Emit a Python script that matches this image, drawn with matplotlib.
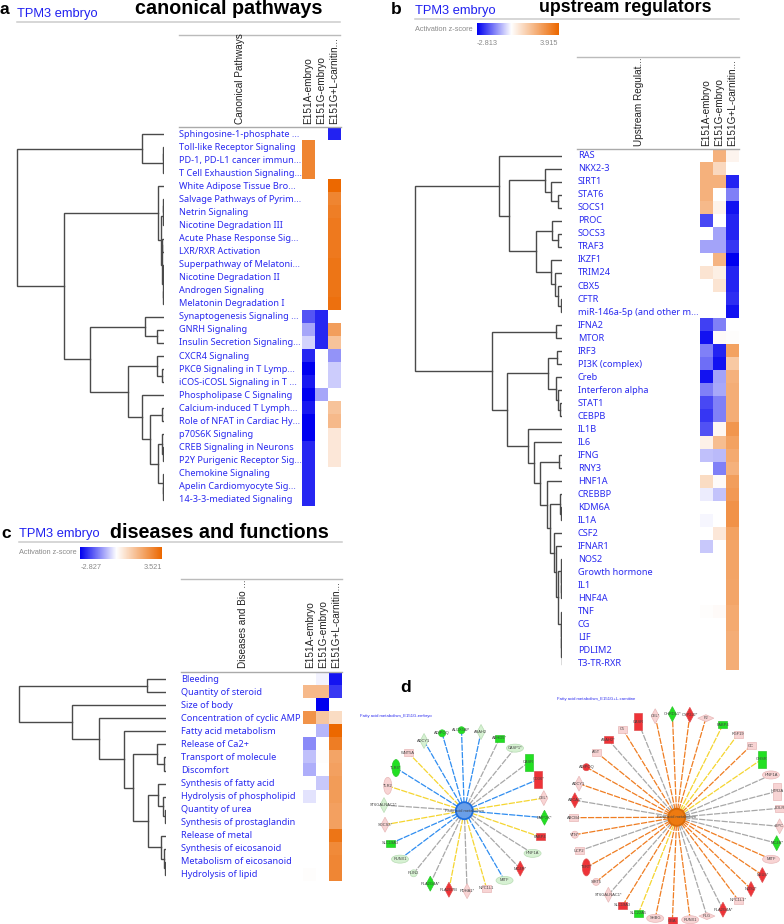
#!/usr/bin/env python3
"""Activation z-score heatmaps with clustering trees, plus two fatty acid networks."""

import numpy as np
import matplotlib
matplotlib.use("Agg")
import matplotlib.pyplot as plt
from matplotlib.colors import LinearSegmentedColormap, TwoSlopeNorm
from matplotlib.patches import Circle, Ellipse, Polygon, Rectangle

W, H = 784, 924
na = np.nan

COLUMNS = ["E151A-embryo", "E151G-embryo", "E151G+L-carnitin..."]

# panel a
canonical_labels = [
    "Sphingosine-1-phosphate ...", "Toll-like Receptor Signaling", "PD-1, PD-L1 cancer immun...",
    "T Cell Exhaustion Signaling...", "White Adipose Tissue Bro...", "Salvage Pathways of Pyrim...",
    "Netrin Signaling", "Nicotine Degradation III", "Acute Phase Response Sig...",
    "LXR/RXR Activation", "Superpathway of Melatoni...", "Nicotine Degradation II",
    "Androgen Signaling", "Melatonin Degradation I", "Synaptogenesis Signaling ...",
    "GNRH Signaling", "Insulin Secretion Signaling...", "CXCR4 Signaling",
    "PKC\u03b8 Signaling in T Lymp...", "iCOS-iCOSL Signaling in T ...", "Phospholipase C Signaling",
    "Calcium-induced T Lymph...", "Role of NFAT in Cardiac Hy...", "p70S6K Signaling",
    "CREB Signaling in Neurons", "P2Y Purigenic Receptor Sig...", "Chemokine Signaling",
    "Apelin Cardiomyocyte Sig...", "14-3-3-mediated Signaling",
]
canonical_a = [na, 2.65, 2.65, 2.65, na, na, na, na, na, na, na, na, na, na,
               -2.0, -1.05, -0.5, -2.55, -3.0, -2.7, -3.0, -2.7, -3.0, -3.0,
               -2.55, -2.55, -2.55, -2.55, -2.55]
canonical_g = [na, na, na, na, na, na, na, na, na, na, na, na, na, na,
               -2.55, -2.55, -2.55, na, na, na, -1.05, na, na, na,
               na, na, na, na, na]
canonical_c = [-2.6, na, na, na, 3.3, 2.65, 2.8, 2.9, 2.9, 2.9, 3.0, 3.0, 3.0, 3.1,
               na, 2.1, 1.3, -1.25, -0.6, -0.6, na, 1.3, 1.5, 0.5,
               0.5, 0.5, na, na, na]
canonical_range = (-3.0, 3.3)
# (branch height, child, child); plain ints are rows
canonical_tree = (
    146.5,
    (21.5, 0, (0.5, (0.3, 1, 2), 3)),
    (99.5,
     (5.5, 4,
      (3, (1, (0.5, 5, 6), 7),
       (1.5, (1.5, 8, 9), (1, (0.5, 10, 11), (0.5, 12, 13))))),
     (73.5,
      (18.5, 14, (6.5, 15, 16)),
      (35.5,
       (6.5, 17, (1.5, 18, 19)),
       (21.5, 20,
        (14, (2, 21, 22),
         (5.5, (2, 23, (1, 24, 25)), (1, 26, (0.5, 27, 28)))))))),
)

# panel b
upstream_labels = [
    "RAS", "NKX2-3", "SIRT1", "STAT6", "SOCS1", "PROC", "SOCS3", "TRAF3", "IKZF1", "TRIM24",
    "CBX5", "CFTR", "miR-146a-5p (and other m...", "IFNA2", "MTOR", "IRF3", "PI3K (complex)",
    "Creb", "Interferon alpha", "STAT1", "CEBPB", "IL1B", "IL6", "IFNG", "RNY3", "HNF1A",
    "CREBBP", "KDM6A", "IL1A", "CSF2", "IFNAR1", "NOS2", "Growth hormone", "IL1", "HNF4A",
    "TNF", "CG", "LIF", "PDLIM2", "T3-TR-RXR",
]
upstream_a = [na, 2.0, 2.0, 2.0, 1.8, -2.0, na, -1.0, na, 0.7, na, na, na, -2.1, -2.6,
              -1.4, -1.6, -2.6, -1.4, -2.0, -2.2, -1.9, 0.35, -0.7, na, 0.9, -0.2, na,
              -0.1, na, -0.6, na, na, na, na, 0.05, na, na, na, na]
upstream_g = [2.0, 1.0, 2.0, na, 0.3, na, -1.0, -1.0, 1.9, 0.4, 0.7, na, na, -1.4, 0.1,
              -2.4, -2.6, -1.0, -0.95, -1.4, -1.4, 0.2, 1.7, -0.75, -1.4, 0.1, -0.65, na,
              na, 0.6, na, na, na, na, na, 0.1, na, na, na, na]
upstream_c = [0.25, na, -2.4, -1.4, -2.6, -2.4, -2.4, -2.2, -2.8, -2.4, -2.4, -2.3, -2.6,
              na, 0.05, 2.4, 1.4, 2.0, 2.1, 2.1, 2.1, 2.7, 2.4, 2.2, 2.0, 2.5, 2.6, 2.8,
              2.8, 2.4, 2.35, 2.35, 2.35, 2.3, 2.3, 2.2, 2.2, 2.1, 2.1, 2.1]
upstream_range = (-2.813, 3.915)
upstream_tree = (
    146.7,
    (62.7, 0,
     (52.4,
      (17, 1, (10.4, 2, (4, 3, 4))),
      (26,
       (10, 5, (3.7, 6, 7)),
       (11, 8, (6.4, 9, (3.4, 10, (0.7, 11, 12))))))),
    (69.4,
     (5.4, 13, 14),
     (54.4,
      (13.4,
       (4.4, 15, 16),
       (5.7, 17, (3.4, 18, (1.7, 19, 20)))),
      (33.4, 21,
       (27.4, 22,
        (21.4,
         (3, 23, 24),
         (14.7, 25,
          (11.4,
           (2, 26, (0.5, 27, 28)),
           (7.4, 29,
            (5.4, 30,
             (3.4,
              (1, 31, (0.7, 32, (0.5, 33, 34))),
              (1, 35, (0.5, 36, (0.3, 37, (0.2, 38, 39))))))))))))))
)

# panel c
disease_labels = [
    "Bleeding", "Quantity of steroid", "Size of body", "Concentration of cyclic AMP",
    "Fatty acid metabolism", "Release of Ca2+", "Transport of molecule", "Discomfort",
    "Synthesis of fatty acid", "Hydrolysis of phospholipid", "Quantity of urea",
    "Synthesis of prostaglandin", "Release of metal", "Synthesis of eicosanoid",
    "Metabolism of eicosanoid", "Hydrolysis of lipid",
]
disease_a = [na, 1.6, na, 2.5, na, -1.3, -0.7, -0.9, na, -0.3, na, na, na, na, na, 0.03]
disease_g = [-0.15, 1.6, -2.827, 1.3, -0.8, na, 0.05, na, -0.6, na, na, na, na, na, na, na]
disease_c = [-2.6, -2.2, na, 0.8, 3.5, 3.0, 2.1, 2.2, 2.3, 2.3, 2.2, 2.2, 3.2, 2.7, 2.8, 2.8]
disease_range = (-2.827, 3.521)
disease_tree = (
    147,
    (19, 0, 1),
    (93.4, 2,
     (66.7, 3,
      (41.7, 4,
       (32.4,
        (8.7, 5, (2, 6, 7)),
        (17.4,
         (7.4, 8, (3, 9, (1, 10, 11))),
         (5, 12, (2, 13, (1, 14, 15))))))))
)

# panel d, angles clockwise from the top in degrees
left_names = ["ADCY1", "WNT5A", "TLR4*", "TLR2", "ST6GALNAC1*", "SOCS3*", "SLC19A3", "RUNX1",
              "PLIN2", "PLA2G4A*", "PLA2G7B", "PDHA1*", "NPC1L1", "MITF", "MC4R*", "HNF1A",
              "FABP4", "BMP2K*", "CEL*", "CD36*", "CASR", "CASP1*", "ABHD5*", "ASAH2",
              "ALOX5AP", "ADIPOQ"]
left_angles = [330, 316, 302, 288, 274, 260, 246, 233, 219, 205, 191, 178, 164, 150, 136,
               122, 109, 95, 81, 67, 53, 39, 26, 12, 358, 344]
left_shapes = ["d", "r", "E", "E", "d", "d", "r", "W", "c", "d", "d", "d", "r", "W", "d",
               "W", "r", "d", "d", "R", "R", "W", "r", "d", "c", "c"]
left_fills = ["lg", "p", "g", "p", "lg", "p", "g", "lg", "lg", "g", "r", "p", "p", "lg", "r",
              "lg", "r", "g", "p", "r", "g", "lg", "g", "lg", "g", "g"]
left_edges = ["b", "y", "b", "y", "k", "y", "b", "b", "k", "k", "y", "k", "y", "b", "k",
              "k", "y", "b", "y", "b", "k", "k", "k", "b", "b", "b"]

right_names = ["C5", "CASR", "CEL*", "CHRDL1*", "CYP2J2*", "F2", "FABP4", "FGF19", "GC", "GHSR",
               "HNF1A", "HTR2A", "LDLR", "LIPC", "MC4R*", "MITF", "NEU3*", "NOS2*", "NPC1L1*",
               "PLA2G4A*", "PLG", "RUNX1", "GBA", "SHBG", "SLC22A5", "SLC19A3", "ST6GALNAC1*",
               "SIRT5", "TERT*", "UCP2", "VTN*", "ABCB4", "ABCA1*", "ADCY1", "ADIPOQ", "AGT",
               "ASAH2*"]
right_angles = [328.5, 338, 348, 357.6, 7.3, 16.4, 26.5, 36.4, 46, 55.7, 65.8, 75.5, 85, 95,
                104.5, 114, 124, 134, 143.4, 153.4, 163, 172.5, 182.4, 192, 201.7, 211.5,
                221.4, 231.3, 241, 251, 260.3, 269.8, 279.5, 289, 299, 309, 318.6]
right_shapes = ["r", "R", "d", "d", "d", "D", "r", "r", "r", "R", "W", "R", "r", "d", "d", "W",
                "d", "d", "r", "d", "D", "W", "r", "W", "r", "r", "d", "c", "E", "r", "c", "r",
                "d", "d", "c", "r", "r"]
right_fills = ["p", "r", "p", "g", "r", "p", "g", "p", "p", "g", "p", "p", "p", "p", "g", "p",
               "r", "r", "p", "r", "p", "p", "r", "p", "g", "r", "p", "p", "r", "p", "p", "p",
               "r", "p", "r", "p", "r"]
right_edges = ["o", "k", "o", "o", "o", "o", "y", "y", "o", "y", "k", "k", "k", "k", "k", "o",
               "o", "o", "o", "k", "k", "o", "o", "o", "y", "o", "k", "o", "o", "k", "o", "o",
               "k", "o", "o", "o", "k"]

FILL = {"p": "#f8d4d4", "r": "#ee3338", "g": "#22e022", "lg": "#d6f1d2"}
BORDER = {"p": "#e8b8b8", "r": "#e05050", "g": "#30c830", "lg": "#b8dcb4"}
EDGE = {"b": "#2f8df0", "y": "#f5d530", "k": "#a8a8a8", "o": "#ef7d22"}
SIZE = {"d": (8, 15), "r": (9, 7), "R": (8, 17), "E": (8, 17), "W": (17, 8), "c": (7, 7), "D": (16, 7)}

BLUE = "#2a2af0"
LABEL_FONT = ["Noto Sans", "DejaVu Sans"]
HEAD_FONT = "Liberation Sans"
CMAP = LinearSegmentedColormap.from_list("zscore", ["#0000f0", "#ffffff", "#ec6800"])

fig = plt.figure(figsize=(W / 100, H / 100), dpi=100, facecolor="white")


def px_axes(x0, y0, x1, y1, **kw):
    ax = fig.add_axes([x0 / W, 1 - y1 / H, (x1 - x0) / W, (y1 - y0) / H], **kw)
    ax.axis("off")
    return ax


# whole figure overlay in pixels, for text, rules and the networks
ov = px_axes(0, 0, W, H, zorder=5)
ov.set_xlim(0, W)
ov.set_ylim(H, 0)
ov.patch.set_alpha(0)


def draw_tree(ax, node):
    if isinstance(node, (int, np.integer)):
        return node + 0.5, 0.0
    h, left, right = node
    y0, x0 = draw_tree(ax, left)
    y1, x1 = draw_tree(ax, right)
    ax.plot([x0, h, h, x1], [y0, y0, y1, y1], color="#4a4a4a", lw=1.0, solid_joinstyle="miter")
    return (y0 + y1) / 2, h


def draw_panel(labels, cols, zrange, tree, heat_x, heat_y, row_h, col_w, tip_x, label_x, stub, head_bottom):
    n = len(labels)
    z = np.array(cols).T
    heat_bottom = heat_y + n * row_h
    norm = TwoSlopeNorm(vmin=zrange[0], vcenter=0, vmax=zrange[1])

    ax = px_axes(heat_x, heat_y, heat_x + 3 * col_w, heat_bottom)
    ax.imshow(z, cmap=CMAP, norm=norm, aspect="auto", interpolation="nearest")

    root = tree[0]
    dn = px_axes(tip_x - root - 1, heat_y, tip_x, heat_bottom)
    dn.set_xlim(root + 1, 0)
    dn.set_ylim(n, 0)
    draw_tree(dn, tree)

    for i, lab in enumerate(labels):
        ov.text(label_x, heat_y + (i + 0.5) * row_h, lab, color=BLUE, family=LABEL_FONT,
                fontsize=6.6, ha="left", va="center")
    ov.text(stub[0], head_bottom, stub[1], rotation=90, family=HEAD_FONT, fontsize=7.2,
            color="#222222", ha="center", va="bottom")
    for i, c in enumerate(COLUMNS):
        ov.text(heat_x + (i + 0.5) * col_w, head_bottom, c, rotation=90, family=HEAD_FONT,
                fontsize=7.2, color="#222222", ha="center", va="bottom")
    right = heat_x + 3 * col_w
    ov.plot([label_x - 0.5, right], [heat_y - 0.5, heat_y - 0.5], color="#aaaaaa", lw=1)


def draw_head(letter, lx, ly, tx, ty, title, title_x, title_y, title_size, rule_y, x0, x1):
    ov.text(lx, ly, letter, family=HEAD_FONT, weight="bold", fontsize=12.5, ha="left", va="center")
    ov.text(tx, ty, "TPM3 embryo", family=HEAD_FONT, color="#2020f0", fontsize=9.25, ha="left", va="center")
    ov.text(title_x, title_y, title, family=HEAD_FONT, weight="bold", fontsize=title_size, ha="left", va="center")
    ov.plot([x0, x1], [rule_y, rule_y], color="#cccccc", lw=1.1)


def draw_scale(x0, x1, y0, y1, zrange):
    ax = px_axes(x0, y0, x1, y1)
    norm = TwoSlopeNorm(vmin=zrange[0], vcenter=0, vmax=zrange[1])
    ax.imshow(np.linspace(zrange[0], zrange[1], 256)[None, :], cmap=CMAP, norm=norm, aspect="auto")
    ov.text(x0 - 4, (y0 + y1) / 2, "Activation z-score", family=HEAD_FONT, fontsize=5.3,
            color="#8a8a8a", ha="right", va="center")
    ov.text(x0, y1 + 8.5, f"{zrange[0]:.3f}", family=HEAD_FONT, fontsize=5.3, color="#8a8a8a", ha="left", va="center")
    ov.text(x1, y1 + 8.5, f"{zrange[1]:.3f}", family=HEAD_FONT, fontsize=5.3, color="#8a8a8a", ha="right", va="center")


def draw_node(x, y, shape, fill):
    w, h = SIZE[shape]
    kw = dict(facecolor=FILL[fill], edgecolor=BORDER[fill], lw=0.5, zorder=3)
    if shape in "rR":
        ov.add_patch(Rectangle((x - w / 2, y - h / 2), w, h, **kw))
    elif shape in "dD":
        ov.add_patch(Polygon([(x, y - h / 2), (x + w / 2, y), (x, y + h / 2), (x - w / 2, y)], **kw))
    else:
        ov.add_patch(Ellipse((x, y), w, h, **kw))


def draw_network(cx, cy, radius, names, angles, shapes, fills, edges, hub, hub_edge):
    for name, ang, shape, fill, edge in zip(names, angles, shapes, fills, edges):
        x = cx + radius * np.sin(np.radians(ang))
        y = cy - radius * np.cos(np.radians(ang))
        ov.plot([cx, x], [cy, y], color=EDGE[edge], lw=0.9, ls=(0, (5, 1)), zorder=2)
        draw_node(x, y, shape, fill)
        ov.text(x, y, name, family=HEAD_FONT, fontsize=2.9, color="#444444", ha="center", va="center", zorder=4)
    ov.add_patch(Circle((cx, cy), 8.5, facecolor=hub, edgecolor=hub_edge, lw=1.3, zorder=3))
    ov.text(cx, cy, "Fatty acid metabolism", family=HEAD_FONT, fontsize=2.9, color="#444444",
            ha="center", va="center", zorder=4)


draw_head("a", 0, 10, 17, 14, "canonical pathways", 135, 9, 14.2, 22, 17, 340.5)
ov.plot([179, 340.5], [35, 35], color="#bbbbbb", lw=1)
draw_panel(canonical_labels, [canonical_a, canonical_g, canonical_c], canonical_range, canonical_tree,
           301.6, 127.5, 13.06, 13.0, 163.5, 179.5, (240, "Canonical Pathways"), 124)

draw_head("b", 391, 10, 415, 11, "upstream regulators", 539, 7.5, 12.8, 18.5, 415, 739)
ov.plot([577.5, 739], [56.5, 56.5], color="#bbbbbb", lw=1)
draw_scale(476.7, 558.3, 23.3, 35.3, upstream_range)
draw_panel(upstream_labels, [upstream_a, upstream_g, upstream_c], upstream_range, upstream_tree,
           700, 149.3, 13.02, 13.0, 561.7, 578, (639, "Upstream Regulat..."), 146)

draw_head("c", 1, 533, 19, 534, "diseases and functions", 110, 533, 14.2, 541.7, 19, 342.3)
ov.plot([181, 342.3], [579.3, 579.3], color="#bbbbbb", lw=1)
draw_scale(80.3, 162, 546.7, 559, disease_range)
draw_panel(disease_labels, [disease_a, disease_g, disease_c], disease_range, disease_tree,
           303.3, 672.7, 13.04, 13.0, 165.7, 181.3, (243, "Diseases and Bio ..."), 668)

ov.text(400, 687, "d", family=HEAD_FONT, weight="bold", fontsize=12.5, ha="left", va="center")
ov.text(360, 716, "Fatty acid metabolism_E151G-embryo", family=HEAD_FONT, fontsize=3.1, color=BLUE, ha="left", va="center")
ov.text(557, 699, "Fatty acid metabolism_E151G+L-carnitine", family=HEAD_FONT, fontsize=3.1, color=BLUE, ha="left", va="center")
draw_network(464.3, 810.7, 80.5, left_names, left_angles, left_shapes, left_fills, left_edges, "#6a9fe8", "#1e6fe0")
draw_network(676.7, 817.3, 103.3, right_names, right_angles, right_shapes, right_fills, right_edges, "#ee7a10", "#d96a08")

fig.savefig("out.png", dpi=100)
